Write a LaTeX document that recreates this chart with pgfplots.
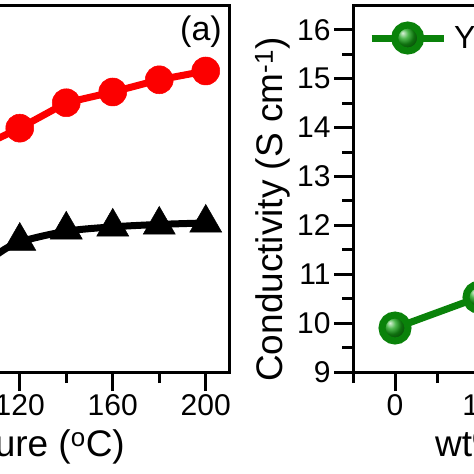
\documentclass[border=0pt]{standalone}
\usepackage{fontspec}
\setmainfont{Liberation Sans}
\usepackage{pgfplots}
\pgfplotsset{compat=1.18}
\definecolor{myred}{RGB}{252,0,0}
\definecolor{mygreen}{RGB}{10,130,10}
\definecolor{ballgreen}{RGB}{20,160,20}
\begin{document}
\begin{tikzpicture}
\useasboundingbox (0,0) rectangle (474pt,474pt);
\clip (0,0) rectangle (474pt,474pt);
\pgfplotsset{
 common/.style={
  scale only axis, height=366.5pt, ymin=9, ymax=16.5,
  axis line style={line width=3pt},
  every tick/.style={line width=3pt, black},
  major tick length=19pt, minor tick length=11pt,
  tick align=outside, tick pos=left,
  /pgf/number format/assume math mode=true,
  tick label style={font=\fontsize{30}{36}\selectfont},
  label style={font=\fontsize{37}{44}\selectfont},
  ytick={9,...,16}, minor y tick num=1,
 }
}
\begin{axis}[common, anchor=south west, at={(-212.75pt,102pt)}, width=441.75pt,
  xmin=20, xmax=210, xtick={120,160,200}, minor xtick={100,140,180},
  yticklabels={},
  xlabel={Temperature (\textsuperscript{o}C)},
  x label style={at={(axis description cs:0.7646,-0.2292)}, anchor=base east, inner sep=0pt}]
\addplot[myred, line width=7pt, mark=*, mark size=14pt, mark options={solid, line width=0.5pt, fill=myred, draw=myred}]
 coordinates {(100,13.54)(120,13.99)(140,14.51)(160,14.73)(180,14.98)(200,15.16)};
\addplot[black, line width=7pt, smooth, no marks]
 coordinates {(100,11.0)(110,11.4)(120,11.66)(140,11.88)(160,11.97)(180,12.02)(200,12.05)};
\addplot[black, only marks, mark=triangle*, mark size=18.5pt, mark options={line width=0.5pt, fill=black}]
 coordinates {(100,11.05)(120,11.68)(140,11.91)(160,11.97)(180,12.01)(200,12.05)};
\node[anchor=east, inner sep=0pt, font=\fontsize{34}{40}\selectfont] at (rel axis cs:1,1) [xshift=-7pt, yshift=-26.5pt] {(a)};
\end{axis}
\begin{axis}[common, anchor=south west, at={(353pt,102pt)}, width=252pt,
  xmin=-5, xmax=25, xtick={0,10,20}, minor xtick={-5,5,15,25},
  xlabel={wt\% of YSZ},
  x label style={at={(axis description cs:0.3254,-0.2292)}, anchor=base west, inner sep=0pt},
  ylabel={Conductivity (S cm\textsuperscript{-1})},
  y label style={at={(axis description cs:-0.2817,-0.0273)}, anchor=base west, inner sep=0pt},
  legend style={draw=none, fill=none, at={(axis description cs:0,0.9113)}, anchor=west, xshift=15pt,
    inner sep=0pt, nodes={inner sep=0pt}, column sep=7pt, font=\fontsize{32}{38}\selectfont},
  legend cell align=left,
  legend image code/.code={\draw[mark repeat=2, mark phase=2, #1] plot coordinates {(0pt,0pt)(36pt,0pt)(72pt,0pt)};}]
\addplot[mygreen, line width=7pt, mark=ball, mark size=13pt, mark options={ball color=ballgreen}]
 coordinates {(0,9.9)(10,10.53)};
\addlegendentry{YSZ}
\end{axis}
\end{tikzpicture}
\end{document}
